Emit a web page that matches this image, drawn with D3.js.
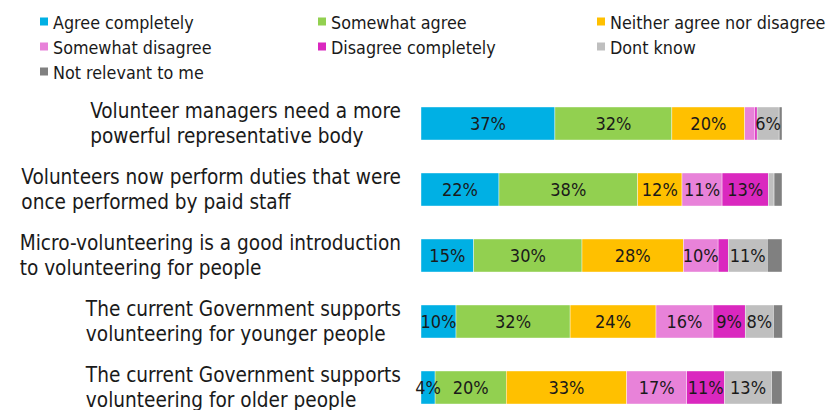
<!DOCTYPE html>
<html>
<head>
<meta charset="utf-8">
<script src="https://cdn.jsdelivr.net/npm/d3@7"></script>
<style>
  html, body { margin: 0; padding: 0; background: #fff; }
  svg text { font-family: "DejaVu Sans Condensed", "DejaVu Sans", sans-serif; font-stretch: condensed; fill: #1a1a1a; }
</style>
</head>
<body>
<svg id="chart" width="829" height="410"></svg>
<script>
// ---- data ----
const categories = [
  "Volunteer managers need a more\npowerful representative body",
  "Volunteers now perform duties that were\nonce performed by paid staff",
  "Micro-volunteering is a good introduction\nto volunteering for people",
  "The current Government supports\nvolunteering for younger people",
  "The current Government supports\nvolunteering for older people"
];
const seriesNames = [
  "Agree completely", "Somewhat agree", "Neither agree nor disagree",
  "Somewhat disagree", "Disagree completely", "Dont know", "Not relevant to me"
];
const seriesColors = ["#00B0E4", "#92D050", "#FFC000", "#E882D9", "#DA28BF", "#BFBFBF", "#808080"];

const agreeCompletely    = [37.1, 21.6, 14.6,  9.7,  3.9];
const somewhatAgree      = [32.4, 38.4, 30.0, 31.6, 19.7];
const neitherAgree       = [20.2, 12.3, 28.1, 23.8, 33.4];
const somewhatDisagree   = [ 2.8, 11.1,  9.6, 15.8, 16.6];
const disagreeCompletely = [ 0.6, 12.8,  2.8,  8.9, 10.5];
const dontKnow           = [ 6.1,  1.6, 10.8,  7.8, 13.0];
const notRelevant        = [ 0.8,  2.2,  4.1,  2.5,  2.9];

const seriesValues = [agreeCompletely, somewhatAgree, neitherAgree, somewhatDisagree,
                      disagreeCompletely, dontKnow, notRelevant];

// table built from the arrays
const table = categories.map((c, i) => {
  const row = { category: c };
  seriesNames.forEach((s, j) => row[s] = seriesValues[j][i]);
  return row;
});

const svg = d3.select("#chart");

const x = d3.scaleLinear().domain([0, 100]).range([421, 782]);
const y = d3.scaleBand().domain(categories).range([90.5, 420.5]).paddingInner(0.5).paddingOuter(0.25);
const color = d3.scaleOrdinal().domain(seriesNames).range(seriesColors);

const stacked = d3.stack().keys(seriesNames)(table);

// bars
const layers = svg.append("g").selectAll("g").data(stacked).join("g")
  .attr("fill", d => color(d.key));
layers.selectAll("rect").data(d => d.map(p => ({ p, key: d.key }))).join("rect")
  .attr("x", d => x(d.p[0]))
  .attr("y", d => y(d.p.data.category))
  .attr("width", d => Math.max(0, x(d.p[1]) - x(d.p[0])))
  .attr("height", y.bandwidth())
  .attr("stroke", "#ffffff")
  .attr("stroke-width", 0.4);

// value labels
const fmt = d3.format(".0f");
const labelG = svg.append("g");
stacked.forEach((layer, si) => {
  if (si === seriesNames.length - 1) return;
  layer.forEach((p, ci) => {
    const v = seriesValues[si][ci];
    if (v < 3.5) return;
    labelG.append("text")
      .attr("x", (x(p[0]) + x(p[1])) / 2)
      .attr("y", y(p.data.category) + y.bandwidth() / 2)
      .attr("text-anchor", "middle")
      .attr("dominant-baseline", "central")
      .style("font-size", "18px")
      .text(fmt(v) + "%");
  });
});

// category labels: left-aligned lines, block right-aligned
const catG = svg.append("g");
categories.forEach(c => {
  const lines = c.split("\n");
  const cy = y(c) + y.bandwidth() / 2;
  const t = catG.append("text").style("font-size", "20.6px");
  lines.forEach((ln, k) => {
    t.append("tspan")
      .attr("x", 0)
      .attr("y", cy + (k - (lines.length - 1) / 2) * 25)
      .attr("dominant-baseline", "central")
      .text(ln);
  });
  const w = d3.max(t.selectAll("tspan").nodes(), n => n.getComputedTextLength());
  t.selectAll("tspan").attr("x", 401 - w);
});

// legend
const legendCols = [40, 318, 597];
const legendRows = [22, 47, 72];
const leg = svg.append("g");
seriesNames.forEach((s, i) => {
  const lx = legendCols[i % 3], ly = legendRows[Math.floor(i / 3)];
  leg.append("rect").attr("x", lx).attr("y", ly - 4.5).attr("width", 8).attr("height", 8).attr("fill", color(s));
  leg.append("text").attr("x", lx + 13).attr("y", ly).attr("dominant-baseline", "central")
    .style("font-size", "17.8px").text(s);
});
</script>
</body>
</html>
